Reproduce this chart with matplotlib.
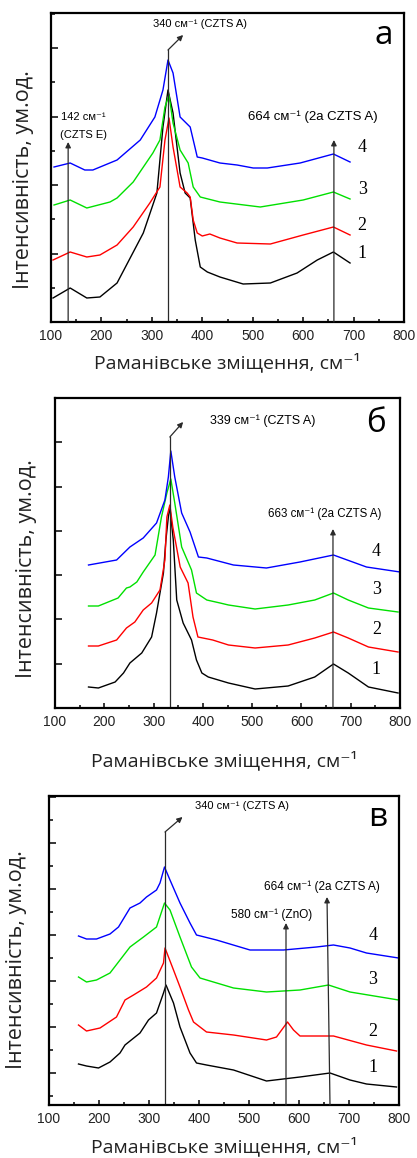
'''
    espectros Raman de películas CZTS, tres paneles (а, б, в)
'''

import matplotlib
matplotlib.use('Agg')
import matplotlib.pyplot as plt
from matplotlib.ticker import MultipleLocator, AutoMinorLocator

# ----- panel а -----
a_x1 = [104, 138, 171, 197, 231, 257, 283, 310, 322, 332, 342, 356, 366, 376, 386, 396, 410, 435, 481, 535, 588, 628, 660, 693]
a_y1 = [24, 34, 24, 25, 39, 64, 89, 129, 195, 232, 209, 149, 129, 124, 82, 55, 50, 45, 38, 39, 49, 62, 70, 59]
a_x2 = [104, 138, 171, 197, 231, 263, 296, 316, 326, 334, 342, 356, 370, 376, 382, 390, 400, 415, 435, 469, 535, 600, 660, 693]
a_y2 = [62, 70, 65, 67, 77, 95, 119, 135, 182, 204, 175, 135, 129, 125, 102, 89, 86, 88, 84, 79, 78, 87, 95, 87]
a_x3 = [106, 138, 171, 217, 231, 263, 302, 316, 326, 334, 342, 356, 372, 382, 396, 435, 515, 600, 660, 693]
a_y3 = [117, 122, 114, 120, 124, 140, 169, 182, 215, 227, 199, 172, 159, 135, 125, 120, 115, 122, 130, 123]
a_x4 = [106, 138, 167, 183, 231, 277, 306, 322, 332, 342, 356, 376, 390, 400, 435, 469, 501, 529, 594, 660, 693]
a_y4 = [155, 159, 152, 152, 162, 182, 205, 232, 262, 249, 205, 195, 165, 164, 159, 157, 154, 154, 159, 168, 160]

# ----- panel б -----
b_x1 = [168, 188, 222, 239, 252, 276, 296, 306, 320, 325, 330, 333, 340, 347, 360, 377, 387, 398, 411, 452, 506, 573, 627, 665, 695, 736, 796]
b_y1 = [21, 20, 26, 35, 45, 55, 71, 95, 135, 168, 191, 201, 168, 108, 85, 68, 48, 35, 31, 25, 19, 22, 31, 44, 35, 21, 15]
b_x2 = [168, 188, 225, 245, 262, 279, 296, 313, 323, 327, 333, 339, 354, 370, 380, 390, 420, 452, 506, 573, 627, 665, 695, 736, 796]
b_y2 = [62, 62, 68, 80, 86, 98, 105, 118, 148, 191, 203, 181, 141, 125, 91, 71, 68, 63, 60, 63, 70, 76, 70, 61, 56]
b_x3 = [168, 188, 228, 245, 252, 266, 279, 303, 316, 327, 335, 343, 357, 377, 387, 408, 435, 452, 506, 573, 627, 665, 695, 736, 796]
b_y3 = [102, 102, 110, 120, 121, 126, 136, 153, 191, 215, 229, 205, 161, 138, 115, 108, 105, 103, 99, 103, 108, 115, 108, 100, 96]
b_x4 = [168, 225, 252, 279, 306, 323, 330, 335, 343, 357, 374, 391, 408, 462, 529, 597, 665, 732, 800]
b_y4 = [143, 148, 161, 170, 185, 208, 231, 257, 231, 195, 176, 151, 150, 143, 140, 146, 153, 141, 136]

# ----- panel в -----
c_x1 = [159, 175, 199, 222, 242, 252, 282, 299, 315, 329, 334, 349, 362, 382, 395, 415, 469, 535, 602, 662, 702, 735, 795]
c_y1 = [9, 7, 5, 11, 20, 28, 40, 53, 60, 80, 88, 70, 46, 20, 10, 8, 3, -8, -4, 0, -7, -11, -14]
c_x2 = [159, 175, 202, 235, 252, 269, 295, 315, 329, 332, 349, 362, 379, 389, 402, 415, 469, 535, 555, 577, 589, 602, 655, 669, 735, 795]
c_y2 = [48, 42, 45, 56, 73, 78, 86, 95, 110, 125, 103, 86, 63, 51, 46, 41, 38, 33, 36, 51, 43, 37, 37, 37, 28, 22]
c_x3 = [159, 175, 195, 222, 242, 262, 289, 315, 331, 342, 362, 385, 402, 469, 535, 602, 659, 702, 799]
c_y3 = [96, 91, 93, 100, 113, 126, 136, 146, 170, 163, 136, 106, 95, 85, 81, 83, 88, 81, 73]
c_x4 = [159, 175, 195, 222, 239, 262, 282, 295, 315, 322, 331, 342, 362, 382, 395, 435, 502, 569, 635, 669, 702, 735, 799]
c_y4 = [137, 134, 134, 139, 146, 165, 170, 176, 183, 190, 206, 193, 170, 150, 138, 133, 123, 123, 126, 128, 125, 120, 115]

curve_labels = ['1', '2', '3', '4']
colores = ['black', '#ff0000', '#00e000', '#0000ff']

ylabel = 'Інтенсивність, ум.од.'
xlabel = 'Раманівське зміщення, см⁻¹'

SANS = ['Liberation Sans', 'DejaVu Sans']
LABEL = ['Open Sans', 'DejaVu Sans']
SERIF = ['Liberation Serif', 'DejaVu Serif']
LINEA = '#2a2a2a'


def preparar_ejes(ax, ylim, paso_y, menor_y):
    """
    Configura límites, ticks hacia dentro y el marco del panel.
    """
    ax.set_xlim(100, 800)
    ax.set_ylim(*ylim)
    ax.xaxis.set_major_locator(MultipleLocator(100))
    ax.xaxis.set_minor_locator(MultipleLocator(50))
    ax.yaxis.set_major_locator(MultipleLocator(paso_y))
    if menor_y:
        ax.yaxis.set_minor_locator(AutoMinorLocator(2))
    ax.set_yticklabels([])
    ax.tick_params(axis='both', which='both', direction='in', top=False, right=False)
    ax.tick_params(axis='x', which='major', length=3.5, width=1.1, pad=5)
    ax.tick_params(axis='x', which='minor', length=2.2, width=1.1)
    ax.tick_params(axis='y', which='major', length=5, width=1.1)
    ax.tick_params(axis='y', which='minor', length=3, width=1.1)
    for lab in ax.get_xticklabels():
        lab.set_family(SANS)
        lab.set_fontsize(10)
        lab.set_color('#222222')
    for s in ax.spines.values():
        s.set_linewidth(1.6)


def flecha_vertical(ax, x, y_top, x_top=None):
    """
    Línea vertical desde el eje inferior con punta de flecha arriba.
    """
    y0 = ax.get_ylim()[0]
    if x_top is None:
        x_top = x
    ax.annotate('', xy=(x_top, y_top), xytext=(x, y0),
                arrowprops=dict(arrowstyle='-|>', color=LINEA, lw=0.9,
                                mutation_scale=8, shrinkA=0, shrinkB=0))


def flecha_doblada(ax, x, y_bend, x_end, y_end):
    """
    Línea vertical hasta y_bend y luego flecha inclinada.
    """
    y0 = ax.get_ylim()[0]
    ax.plot([x, x], [y0, y_bend], color=LINEA, lw=0.9)
    ax.annotate('', xy=(x_end, y_end), xytext=(x, y_bend),
                arrowprops=dict(arrowstyle='-|>', color=LINEA, lw=0.9,
                                mutation_scale=8, shrinkA=0, shrinkB=0))


def etiquetas(ax, xl_pos, yl_pos, letra, letra_pos):
    ax.text(xl_pos[0], xl_pos[1], xlabel, transform=ax.transAxes, ha='center', va='center',
            fontsize=14, family=LABEL, color='#222222')
    ax.text(yl_pos[0], yl_pos[1], ylabel, transform=ax.transAxes, ha='center', va='center',
            rotation=90, fontsize=15.5, family=LABEL, color='#222222')
    ax.text(letra_pos[0], letra_pos[1], letra, ha='center', va='center',
            fontsize=24, family=LABEL, color='black')


fig = plt.figure(figsize=(4.17, 11.58), dpi=100)

# ---------- а ----------
ax = fig.add_axes([51 / 417, 1 - 322 / 1158, 353 / 417, 309 / 1158])
for xs, ys, c in zip([a_x1, a_x2, a_x3, a_x4], [a_y1, a_y2, a_y3, a_y4], colores):
    ax.plot(xs, ys, color=c, lw=1.0)
preparar_ejes(ax, (0, 309), 68.5, True)
flecha_doblada(ax, 332, 272, 362, 287)
flecha_vertical(ax, 134, 180)
flecha_vertical(ax, 661, 182)
ax.text(396, 298, '340 см⁻¹ (CZTS A)', ha='center', va='center', fontsize=8, family=SANS)
ax.text(120, 205, '142 см⁻¹', ha='left', va='center', fontsize=8, family=SANS)
ax.text(118, 187, '(CZTS E)', ha='left', va='center', fontsize=8, family=SANS)
ax.text(620, 205, '664 см⁻¹ (2a CZTS A)', ha='center', va='center', fontsize=9.5, family=SANS)
for lab, yy in zip(curve_labels, [69, 96, 132, 175]):
    ax.text(717, yy, lab, ha='center', va='center', fontsize=13, family=SERIF)
etiquetas(ax, (0.50, -0.13), (-0.079, 0.46), 'а', (759, 287))

# ---------- б ----------
ax = fig.add_axes([55 / 417, 1 - 708 / 1158, 345 / 417, 310 / 1158])
for xs, ys, c in zip([b_x1, b_x2, b_x3, b_x4], [b_y1, b_y2, b_y3, b_y4], colores):
    ax.plot(xs, ys, color=c, lw=1.0)
preparar_ejes(ax, (0, 310), 44.3, False)
flecha_doblada(ax, 333, 271, 360, 286)
flecha_vertical(ax, 664, 179)
ax.text(522, 287, '339 см⁻¹ (CZTS A)', ha='center', va='center', fontsize=9, family=SANS)
ax.text(648, 194, '663 см⁻¹ (2a CZTS A)', ha='center', va='center', fontsize=8.3, family=SANS)
for lab, yy in zip(curve_labels, [38, 78, 118, 156]):
    ax.text(752, yy, lab, ha='center', va='center', fontsize=13, family=SERIF)
etiquetas(ax, (0.49, -0.168), (-0.084, 0.45), 'б', (752, 285))

# ---------- в ----------
ax = fig.add_axes([49 / 417, 1 - 1105 / 1158, 350 / 417, 309 / 1158])
for xs, ys, c in zip([c_x1, c_x2, c_x3, c_x4], [c_y1, c_y2, c_y3, c_y4], colores):
    ax.plot(xs, ys, color=c, lw=1.0)
preparar_ejes(ax, (-32, 277), 46, True)
flecha_doblada(ax, 332, 241, 367, 256)
flecha_vertical(ax, 574, 150)
flecha_vertical(ax, 662, 176, x_top=656)
ax.text(486, 267, '340 см⁻¹ (CZTS A)', ha='center', va='center', fontsize=8, family=SANS)
ax.text(546, 158, '580 см⁻¹ (ZnO)', ha='center', va='center', fontsize=8.5, family=SANS)
ax.text(646, 186, '664 см⁻¹ (2a CZTS A)', ha='center', va='center', fontsize=8.5, family=SANS)
for lab, yy in zip(curve_labels, [5, 42, 93, 137]):
    ax.text(748, yy, lab, ha='center', va='center', fontsize=13, family=SERIF)
etiquetas(ax, (0.50, -0.135), (-0.094, 0.47), 'в', (758, 255))

fig.savefig('out.png', dpi=100)
